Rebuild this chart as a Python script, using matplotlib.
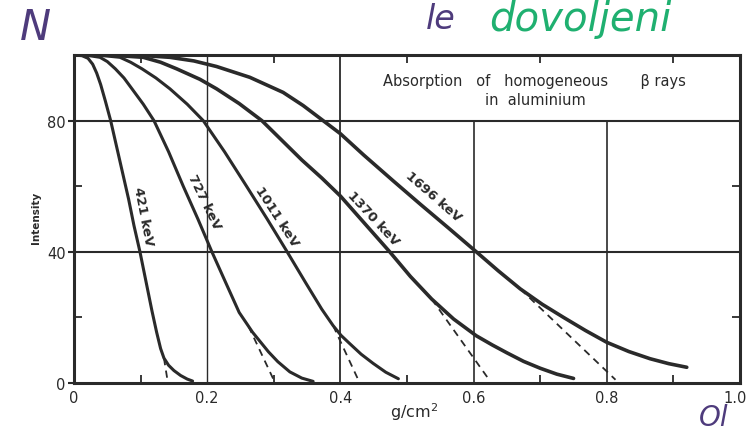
import matplotlib.pyplot as plt
from matplotlib.transforms import offset_copy

# Courbes (g/cm2, intensite)
x_421 = [0.0, 0.012, 0.021, 0.028, 0.034, 0.040, 0.047, 0.055, 0.064, 0.073, 0.082, 0.090,
         0.099, 0.108, 0.117, 0.124, 0.130, 0.135, 0.142, 0.150, 0.160, 0.170, 0.178]
y_421 = [100, 99.8, 99.0, 97.2, 94.5, 91, 86, 80, 72, 64, 56, 48,
         40, 31, 22, 15.5, 10.5, 7.6, 5.4, 3.8, 2.3, 1.2, 0.6]
dash_421_x = [0.135, 0.141]
dash_421_y = [7.6, 0.0]

x_727 = [0.0, 0.020, 0.039, 0.050, 0.062, 0.075, 0.087, 0.104, 0.120, 0.142, 0.164, 0.186,
         0.207, 0.228, 0.248, 0.258, 0.268, 0.280, 0.292, 0.306, 0.324, 0.342, 0.359]
y_727 = [100, 99.9, 99.3, 98, 95.8, 93, 89.7, 85, 80, 70.5, 60, 50,
         40, 30.5, 21.5, 18.5, 15.5, 12.5, 9.5, 6.5, 3.4, 1.5, 0.5]
dash_727_x = [0.262, 0.302]
dash_727_y = [17.3, 0.0]

x_1011 = [0.0, 0.040, 0.069, 0.085, 0.102, 0.123, 0.144, 0.170, 0.194, 0.226, 0.259, 0.290,
          0.320, 0.348, 0.372, 0.389, 0.401, 0.414, 0.431, 0.449, 0.468, 0.487]
y_1011 = [100, 99.9, 99.3, 97.8, 95.8, 93, 89.7, 85, 80, 70.5, 60, 50,
          40, 30.5, 22.5, 17.5, 14.5, 12, 8.8, 6, 3.3, 1.3]
dash_1011_x = [0.389, 0.429]
dash_1011_y = [17.5, 0.0]

x_1370 = [0.0, 0.060, 0.104, 0.130, 0.154, 0.189, 0.214, 0.248, 0.282, 0.312, 0.342, 0.372,
          0.400, 0.437, 0.474, 0.505, 0.537, 0.570, 0.604, 0.628, 0.650, 0.675, 0.700, 0.725, 0.750]
y_1370 = [100, 99.9, 99.3, 97.8, 95.8, 92.6, 89.7, 85.2, 80, 74, 68, 62.5,
          57, 48.5, 40, 32.5, 25.6, 19.5, 14.4, 11.6, 9.2, 6.6, 4.5, 2.7, 1.4]
dash_1370_x = [0.537, 0.625]
dash_1370_y = [25.6, 0.5]

x_1696 = [0.0, 0.100, 0.144, 0.180, 0.214, 0.264, 0.314, 0.344, 0.374, 0.400, 0.435, 0.480,
          0.520, 0.562, 0.604, 0.637, 0.670, 0.703, 0.735, 0.768, 0.800, 0.833, 0.865, 0.893, 0.920]
y_1696 = [100, 99.9, 99.3, 98.2, 96.5, 93.2, 88.6, 84.6, 80, 76, 69.5, 61.5,
          54.5, 47.3, 40, 34.2, 28.7, 24, 20, 16, 12.4, 9.6, 7.4, 5.9, 4.8]
dash_1696_x = [0.670, 0.813]
dash_1696_y = [28.7, 1.0]

labels = ["421 keV", "727 keV", "1011 keV", "1370 keV", "1696 keV"]
label_x = [0.104, 0.195, 0.304, 0.449, 0.540]
label_y = [51.0, 55.3, 51.0, 50.2, 57.0]
label_rot = [-79, -64, -57, -47, -41]

xtick_pos = [0, 0.2, 0.4, 0.6, 0.8, 1.0]
xtick_lab = ["0", "0.2", "0.4", "0.6", "0.8", "1.0"]
ytick_pos = [0, 40, 80]
ytick_lab = ["0", "40", "80"]
x_minor = [0.1, 0.3, 0.5, 0.6, 0.7, 0.8, 0.9]
y_minor = [20, 60]

ink = "#2a2a2a"

fig = plt.figure(figsize=(7.47, 4.35), dpi=100)
ax = fig.add_axes([0.0991, 0.1172, 0.8916, 0.754])
ax.set_xlim(0, 1.0)
ax.set_ylim(0, 100)

# grille
ax.axhline(40, color=ink, lw=1.5, zorder=1)
ax.axhline(80, color=ink, lw=1.5, zorder=1)
ax.vlines([0.2], 0, 100, color=ink, lw=1.0, zorder=1)
ax.vlines([0.4], 0, 100, color=ink, lw=1.3, zorder=1)
ax.vlines([0.6, 0.8], 0, 80, color=ink, lw=1.2, zorder=1)

curves = [(x_421, y_421, dash_421_x, dash_421_y),
          (x_727, y_727, dash_727_x, dash_727_y),
          (x_1011, y_1011, dash_1011_x, dash_1011_y),
          (x_1370, y_1370, dash_1370_x, dash_1370_y),
          (x_1696, y_1696, dash_1696_x, dash_1696_y)]
for i, (cx, cy, dx, dy) in enumerate(curves):
    ax.plot(cx, cy, color=ink, lw=2.2 if i < 3 else 2.6, solid_capstyle="round",
            solid_joinstyle="round", zorder=3)
    ax.plot(dx, dy, color=ink, lw=1.3, ls=(0, (4, 3)), zorder=2)

for lab, lx, ly, rot in zip(labels, label_x, label_y, label_rot):
    ax.text(lx, ly, lab, rotation=rot, rotation_mode="anchor", ha="center", va="center",
            fontsize=9.5, fontweight="bold", color=ink)

ax.text(0.692, 89.4, "Absorption   of   homogeneous       \u03b2 rays\nin  aluminium",
        ha="center", va="center", fontsize=10.5, color=ink, linespacing=1.3)

# axes et graduations
for s in ax.spines.values():
    s.set_linewidth(2.2)
    s.set_color(ink)
ax.set_xticks(xtick_pos)
ax.set_xticklabels(xtick_lab)
ax.set_yticks(ytick_pos)
ax.set_yticklabels(ytick_lab)
ax.set_xticks(x_minor, minor=True)
ax.set_yticks(y_minor, minor=True)
ax.tick_params(axis="x", which="major", length=0, pad=5, labelsize=10.5, colors=ink)
ax.tick_params(axis="y", which="major", length=4, width=1.5, direction="out", pad=2,
               labelsize=10.5, colors=ink)
ax.tick_params(which="minor", direction="in", length=6, width=1.3, color=ink,
               top=True, right=True)

# le dernier label touche le bord : on le decale un peu
last = ax.get_xticklabels()[-1]
last.set_transform(offset_copy(last.get_transform(), fig=fig, x=-5, y=0, units="dots"))

ax.text(0.51, -0.085, "g/cm$^2$", transform=ax.transAxes, ha="center", va="center",
        fontsize=11.5, color=ink)
ax.text(-0.057, 0.506, "Intensity", transform=ax.transAxes, rotation=90, ha="center",
        va="center", fontsize=7.5, fontweight="bold", color=ink)

# annotations manuscrites
fig.text(0.027, 0.935, "N", fontsize=30, style="italic", color="#4e3b7c", ha="left", va="center")
fig.text(0.57, 0.955, "le", fontsize=24, style="italic", color="#4e3b7c", ha="left", va="center")
fig.text(0.655, 0.955, "dovoljeni", fontsize=29, style="italic", color="#1fb070", ha="left", va="center")
fig.text(0.935, 0.008, "Ol", fontsize=20, style="italic", color="#4e3b7c", ha="left", va="bottom")

fig.savefig("out.png", dpi=100)
